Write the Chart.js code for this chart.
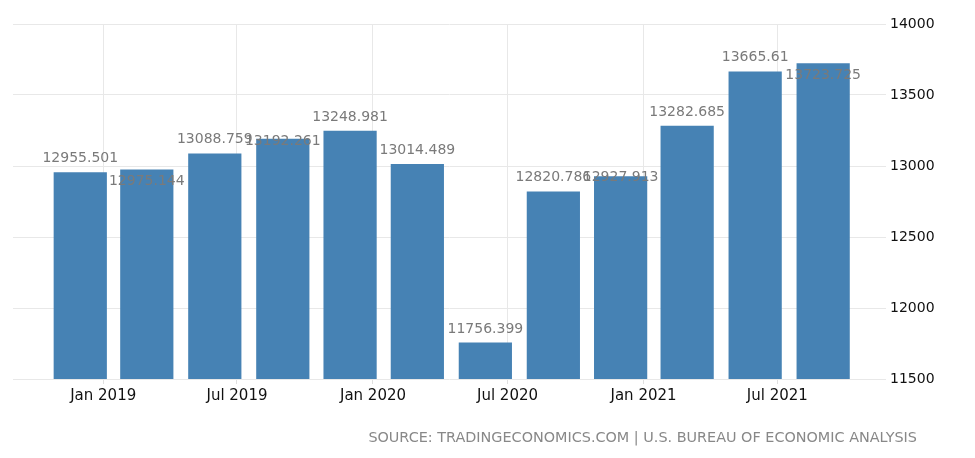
<!DOCTYPE html>
<html>
<head>
<meta charset="utf-8">
<script src="https://cdn.jsdelivr.net/npm/chart.js@4/dist/chart.umd.min.js"></script>
<style>
  html, body { margin: 0; padding: 0; background: #ffffff; }
  #wrap { width: 975px; height: 458px; }
</style>
</head>
<body>
<div id="wrap"><canvas id="c" width="975" height="458"></canvas></div>
<script>
// ---- data ----
const barDates = ["2018-12-01","2019-03-01","2019-06-01","2019-09-01","2019-12-01","2020-03-01",
                  "2020-06-01","2020-09-01","2020-12-01","2021-03-01","2021-06-01","2021-09-01"];
const values = [12955.501, 12975.144, 13088.759, 13192.261, 13248.981, 13014.489,
                11756.399, 12820.786, 12927.913, 13282.685, 13665.61, 13723.725];
const tickDates = ["2019-01-01","2019-07-01","2020-01-01","2020-07-01","2021-01-01","2021-07-01"];
const tickLabels = ["Jan 2019","Jul 2019","Jan 2020","Jul 2020","Jan 2021","Jul 2021"];
const yMin = 11500, yMax = 14000, yStep = 500;
const xRangeDates = ["2018-09-01", "2021-11-25"];
const sourceText = "SOURCE: TRADINGECONOMICS.COM | U.S. BUREAU OF ECONOMIC ANALYSIS";

// ---- styling ----
const FONT = "'DejaVu Sans', sans-serif";
const BAR_COLOR = "#4682b4";
const GRID_COLOR = "#e8e8e8";
// downward shift (px) of some value labels, avoiding overlap like the original
const labelShift = [0, 25, 0, 16, 0, 0, 0, 0, 15, 0, 0, 26];

const ORIGIN = Date.UTC(2019, 0, 1);
function day(s) { return (Date.parse(s + "T00:00:00Z") - ORIGIN) / 86400000; }

const points = barDates.map((d, i) => ({ x: day(d), y: values[i] }));
const tickVals = tickDates.map(day);

const valueLabels = {
  id: "valueLabels",
  afterDatasetsDraw(chart) {
    const ctx = chart.ctx;
    const meta = chart.getDatasetMeta(0);
    ctx.save();
    ctx.font = "14px " + FONT;
    ctx.fillStyle = "#7a7a7a";
    ctx.textAlign = "center";
    ctx.textBaseline = "alphabetic";
    meta.data.forEach((bar, i) => {
      ctx.fillText(String(values[i]), bar.x, bar.y - 10 + labelShift[i]);
    });
    ctx.restore();
  }
};

const sourcePlugin = {
  id: "sourceText",
  afterDraw(chart) {
    const ctx = chart.ctx;
    ctx.save();
    ctx.font = "14.4px " + FONT;
    ctx.fillStyle = "#888888";
    ctx.textAlign = "right";
    ctx.textBaseline = "alphabetic";
    ctx.fillText(sourceText, 917, 442);
    ctx.restore();
  }
};

new Chart(document.getElementById("c"), {
  type: "bar",
  data: {
    datasets: [{
      data: points,
      backgroundColor: BAR_COLOR,
      borderWidth: 0,
      barPercentage: 0.8,
      categoryPercentage: 1.0
    }]
  },
  options: {
    responsive: false,
    animation: false,
    events: [],
    layout: { padding: { left: 13, top: 24, right: 0, bottom: 0 } },
    plugins: { legend: { display: false }, tooltip: { enabled: false } },
    scales: {
      x: {
        type: "linear",
        offset: false,
        min: day(xRangeDates[0]),
        max: day(xRangeDates[1]),
        afterBuildTicks(scale) { scale.ticks = tickVals.map(v => ({ value: v })); },
        afterFit(scale) { scale.height = 79; },
        grid: { offset: false, color: GRID_COLOR, drawTicks: true, tickLength: 5, tickColor: "#e0e0e0" },
        border: { display: false },
        ticks: {
          autoSkip: false, maxRotation: 0, minRotation: 0, padding: 3,
          color: "#111", font: { family: FONT, size: 15 },
          callback(v) { const i = tickVals.indexOf(v); return i >= 0 ? tickLabels[i] : ""; }
        }
      },
      y: {
        position: "right",
        min: yMin, max: yMax,
        afterFit(scale) { scale.width = 89; },
        grid: { color: GRID_COLOR, drawTicks: false },
        border: { display: false },
        ticks: {
          stepSize: yStep, padding: 4, color: "#111",
          font: { family: FONT, size: 14 },
          callback(v) { return String(v); }
        }
      }
    }
  },
  plugins: [valueLabels, sourcePlugin]
});
</script>
</body>
</html>
